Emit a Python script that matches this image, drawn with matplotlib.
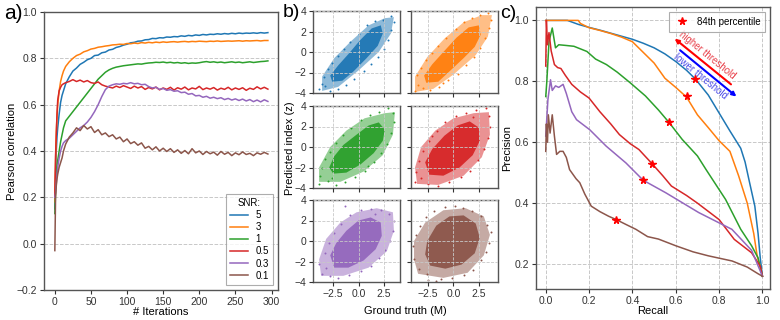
import math
import matplotlib
matplotlib.use("Agg")
import matplotlib.pyplot as plt

plt.rcParams["font.family"] = ["Liberation Sans", "DejaVu Sans"]
plt.rcParams["axes.edgecolor"] = "#555555"
plt.rcParams["axes.linewidth"] = 1.0
plt.rcParams["xtick.color"] = "#333333"
plt.rcParams["ytick.color"] = "#333333"

W, H = 780, 320
COLORS = ["tab:blue", "tab:orange", "tab:green", "tab:red", "tab:purple", "tab:brown"]
snr_labels = ["5", "3", "1", "0.5", "0.3", "0.1"]

# --- panel a: Pearson correlation vs iterations ---
iters = [0, 1, 2, 3, 4, 6, 8, 10, 12, 15,
         20, 25, 30, 35, 40, 45, 50, 55, 60, 65,
         70, 75, 80, 85, 90, 95, 100, 105, 110, 115,
         120, 125, 130, 135, 140, 145, 150, 155, 160, 165,
         170, 175, 180, 185, 190, 195, 200, 205, 210, 215,
         220, 225, 230, 235, 240, 245, 250, 255, 260, 265,
         270, 275, 280, 285, 290, 295]

corr_snr5 = [0.15, 0.30, 0.40, 0.46, 0.50, 0.56, 0.61, 0.64, 0.66, 0.69,
             0.720, 0.745, 0.758, 0.774, 0.783, 0.794, 0.800, 0.812, 0.814, 0.824,
             0.827, 0.836, 0.839, 0.847, 0.851, 0.857, 0.861, 0.867, 0.869, 0.874,
             0.875, 0.880, 0.881, 0.886, 0.885, 0.889, 0.888, 0.892, 0.891, 0.894,
             0.893, 0.897, 0.895, 0.899, 0.897, 0.901, 0.899, 0.903, 0.901, 0.904,
             0.903, 0.906, 0.904, 0.907, 0.905, 0.908, 0.906, 0.909, 0.907, 0.909,
             0.908, 0.910, 0.908, 0.911, 0.909, 0.911]
corr_snr3 = [0.18, 0.35, 0.48, 0.55, 0.60, 0.66, 0.70, 0.725, 0.745, 0.765,
             0.785, 0.800, 0.812, 0.818, 0.828, 0.833, 0.840, 0.843, 0.848, 0.850,
             0.853, 0.855, 0.858, 0.859, 0.861, 0.860, 0.864, 0.863, 0.866, 0.864,
             0.868, 0.866, 0.869, 0.867, 0.870, 0.868, 0.871, 0.869, 0.871, 0.872,
             0.870, 0.872, 0.873, 0.871, 0.873, 0.872, 0.874, 0.873, 0.872, 0.874,
             0.873, 0.875, 0.873, 0.874, 0.875, 0.874, 0.875, 0.876, 0.874, 0.876,
             0.875, 0.876, 0.877, 0.875, 0.877, 0.877]
corr_snr1 = [0.13, 0.22, 0.30, 0.34, 0.36, 0.40, 0.44, 0.47, 0.50, 0.53,
             0.550, 0.570, 0.590, 0.610, 0.630, 0.650, 0.670, 0.690, 0.710, 0.725,
             0.740, 0.750, 0.757, 0.762, 0.765, 0.768, 0.770, 0.772, 0.774, 0.776,
             0.775, 0.778, 0.780, 0.781, 0.783, 0.782, 0.784, 0.781, 0.783, 0.780,
             0.782, 0.779, 0.781, 0.778, 0.780, 0.779, 0.781, 0.784, 0.786, 0.783,
             0.785, 0.782, 0.784, 0.781, 0.783, 0.785, 0.782, 0.784, 0.781, 0.783,
             0.785, 0.782, 0.784, 0.786, 0.787, 0.789]
corr_snr05 = [0.20, 0.38, 0.47, 0.56, 0.62, 0.66, 0.675, 0.686, 0.690, 0.695,
              0.700, 0.708, 0.700, 0.706, 0.698, 0.704, 0.695, 0.692, 0.698, 0.686,
              0.680, 0.676, 0.672, 0.680, 0.674, 0.682, 0.676, 0.670, 0.680, 0.672,
              0.678, 0.666, 0.674, 0.668, 0.676, 0.664, 0.672, 0.666, 0.675, 0.663,
              0.673, 0.667, 0.676, 0.664, 0.672, 0.668, 0.679, 0.665, 0.672, 0.667,
              0.674, 0.663, 0.671, 0.666, 0.675, 0.664, 0.672, 0.666, 0.673, 0.662,
              0.671, 0.666, 0.677, 0.668, 0.675, 0.667]
corr_snr03 = [0.20, 0.22, 0.26, 0.30, 0.33, 0.37, 0.40, 0.42, 0.435, 0.445,
              0.455, 0.470, 0.485, 0.500, 0.510, 0.525, 0.545, 0.570, 0.600, 0.635,
              0.665, 0.680, 0.686, 0.690, 0.688, 0.692, 0.690, 0.695, 0.690, 0.692,
              0.686, 0.688, 0.678, 0.672, 0.675, 0.666, 0.670, 0.662, 0.665, 0.658,
              0.660, 0.652, 0.654, 0.645, 0.648, 0.638, 0.640, 0.632, 0.636, 0.628,
              0.632, 0.626, 0.630, 0.622, 0.627, 0.620, 0.625, 0.618, 0.624, 0.616,
              0.622, 0.613, 0.620, 0.612, 0.621, 0.614]
corr_snr01 = [-0.03, 0.20, 0.25, 0.28, 0.30, 0.33, 0.35, 0.37, 0.40, 0.43,
              0.460, 0.478, 0.500, 0.488, 0.510, 0.495, 0.505, 0.480, 0.492, 0.470,
              0.478, 0.462, 0.470, 0.452, 0.460, 0.440, 0.452, 0.432, 0.440, 0.425,
              0.435, 0.412, 0.420, 0.405, 0.418, 0.400, 0.412, 0.398, 0.410, 0.394,
              0.405, 0.390, 0.402, 0.388, 0.410, 0.392, 0.400, 0.385, 0.398, 0.388,
              0.395, 0.382, 0.398, 0.386, 0.394, 0.380, 0.392, 0.384, 0.396, 0.385,
              0.390, 0.380, 0.392, 0.386, 0.394, 0.387]
corr_series = [corr_snr5, corr_snr3, corr_snr1, corr_snr05, corr_snr03, corr_snr01]

# --- panel b: predicted vs ground truth clouds (dense core, sparse halo, stray points) ---
cloud_core = [
    [(-2.6, -2.9), (-1.6, -2.8), (-0.5, -1.9), (0.8, -0.6), (1.9, 0.6), (2.4, 1.8),
     (2.2, 2.6), (1.3, 2.3), (0.2, 1.2), (-1.0, -0.2), (-2.0, -1.3), (-2.8, -2.3)],
    [(-2.7, -3.0), (-1.5, -2.9), (-0.3, -1.8), (1.0, -0.6), (2.1, 0.5), (2.7, 1.7),
     (2.5, 2.6), (1.5, 2.4), (0.3, 1.4), (-1.0, 0.0), (-2.1, -1.2), (-2.9, -2.3)],
    [(-2.5, -2.6), (-1.2, -2.5), (0.2, -1.7), (1.5, -0.6), (2.4, 0.6), (2.6, 1.7),
     (2.0, 2.4), (1.0, 2.1), (-0.2, 1.2), (-1.5, 0.2), (-2.4, -0.9), (-2.9, -2.0)],
    [(-2.4, -2.7), (-1.0, -2.8), (0.6, -2.0), (1.9, -0.8), (2.6, 0.6), (2.5, 1.9),
     (1.6, 2.5), (0.4, 2.1), (-0.9, 1.1), (-2.1, -0.2), (-2.8, -1.5)],
    [(-2.4, -2.6), (-1.0, -2.6), (0.5, -1.9), (1.7, -0.8), (2.3, 0.5), (2.2, 1.8),
     (1.2, 2.3), (0.0, 2.0), (-1.2, 1.0), (-2.2, -0.2), (-2.8, -1.4)],
    [(-2.3, -2.4), (-0.8, -2.7), (0.8, -2.3), (2.1, -1.2), (2.6, 0.3), (2.2, 1.7),
     (1.0, 2.5), (-0.4, 2.4), (-1.7, 1.5), (-2.6, 0.0), (-2.8, -1.3)],
]
cloud_halo = [
    [(-3.6, -3.8), (-2.0, -3.4), (0.0, -1.8), (2.0, 0.0), (3.2, 1.8), (3.5, 3.4),
     (2.6, 3.3), (1.0, 2.6), (-0.8, 1.0), (-2.4, -0.6), (-3.6, -2.4)],
    [(-3.8, -3.9), (-2.0, -3.6), (0.0, -2.2), (2.2, -0.3), (3.4, 1.5), (3.8, 3.6),
     (2.8, 3.6), (1.0, 2.9), (-0.9, 1.3), (-2.6, -0.5), (-3.8, -2.4)],
    [(-3.9, -3.4), (-1.8, -3.4), (0.5, -2.4), (2.4, -0.8), (3.4, 1.2), (3.6, 3.4),
     (2.6, 3.3), (0.6, 2.8), (-1.2, 1.6), (-2.8, 0.0), (-3.9, -2.0)],
    [(-3.6, -3.6), (-1.5, -3.7), (1.0, -2.8), (2.8, -1.0), (3.6, 1.2), (3.5, 3.4),
     (2.0, 3.3), (0.0, 2.8), (-1.8, 1.6), (-3.2, 0.0), (-3.8, -2.0)],
    [(-3.7, -3.4), (-1.5, -3.4), (1.0, -2.6), (2.8, -1.0), (3.5, 1.0), (3.4, 2.8),
     (1.8, 3.2), (-0.2, 2.8), (-1.8, 1.8), (-3.2, 0.2), (-3.9, -1.8)],
    [(-3.5, -3.2), (-1.0, -3.6), (1.4, -3.1), (3.0, -1.4), (3.6, 0.6), (3.0, 2.4),
     (1.2, 3.2), (-1.0, 3.0), (-2.8, 1.8), (-3.9, 0.0), (-3.9, -1.8)],
]
cloud_strays = [
    [(-3.9, -3.6), (-3.6, -3.1), (-3.4, -2.4), (-3.0, -1.7), (-2.6, -1.1), (-2.0, -0.4),
     (-1.4, 0.3), (-0.8, 1.0), (0.0, 1.8), (0.8, 2.6), (1.6, 3.0), (2.4, 3.1), (3.2, 3.5),
     (3.5, 2.9), (3.2, 2.1), (2.9, 1.2), (2.5, 0.3), (1.9, -0.5), (1.2, -1.2), (0.5, -1.9),
     (-0.4, -2.6), (-1.2, -3.2), (-2.0, -3.6), (-2.8, -3.8), (-3.3, -3.3)],
    [(-3.8, -3.8), (-3.5, -3.2), (-3.6, -2.2), (-3.2, -1.6), (-2.7, -0.8), (-2.1, -0.1),
     (-1.5, 0.6), (-0.7, 1.4), (0.2, 2.2), (1.0, 2.9), (1.8, 3.3), (2.6, 3.6), (3.4, 3.8),
     (3.7, 3.1), (3.5, 2.3), (3.1, 1.4), (2.6, 0.4), (2.0, -0.5), (1.2, -1.3), (0.4, -2.1),
     (-0.5, -2.7), (-1.4, -3.4), (-2.3, -3.7), (-3.0, -3.5), (-1.0, -3.0)],
    [(-3.9, -3.6), (-3.8, -2.8), (-3.6, -2.0), (-3.3, -1.2), (-2.8, -0.5), (-2.2, 0.4),
     (-1.5, 1.2), (-0.7, 1.9), (0.2, 2.6), (1.1, 3.1), (2.0, 3.4), (2.9, 3.8), (3.4, 3.3),
     (3.5, 2.4), (3.2, 1.4), (2.8, 0.3), (2.2, -0.6), (1.5, -1.5), (0.6, -2.3), (-0.3, -2.9),
     (-1.3, -3.4), (-2.2, -3.7), (-3.0, -3.3), (-2.6, -3.0), (0.9, -1.9)],
    [(-3.8, -3.4), (-3.7, -2.4), (-3.4, -1.4), (-3.0, -0.4), (-2.4, 0.6), (-1.6, 1.6),
     (-0.8, 2.4), (0.2, 3.0), (1.2, 3.3), (2.2, 3.6), (3.2, 3.8), (3.5, 3.0), (3.6, 2.0),
     (3.4, 0.9), (3.0, -0.2), (2.4, -1.3), (1.6, -2.3), (0.7, -2.9), (-0.4, -3.4),
     (-1.5, -3.8), (-2.5, -3.6), (-3.2, -3.0), (1.9, 2.9), (-2.1, 1.1)],
    [(-3.9, -2.2), (-3.6, -3.2), (-3.3, -1.2), (-2.9, -0.2), (-2.4, 0.8), (-1.7, 1.7),
     (-1.3, 3.4), (-0.8, 2.5), (0.2, 3.0), (1.2, 3.1), (2.2, 3.0), (3.0, 2.6), (3.5, 2.0),
     (3.4, 1.0), (3.1, 0.0), (2.6, -0.9), (2.0, -1.7), (1.2, -2.4), (0.2, -2.9),
     (-0.9, -3.3), (-2.0, -3.6), (-2.8, -3.4), (-3.2, -2.6), (1.6, 2.6)],
    [(-3.9, -1.8), (-4.0, -0.5), (-3.7, 0.6), (-3.3, 1.5), (-2.7, 2.3), (-1.9, 2.9),
     (-0.8, 3.3), (0.1, 3.4), (0.9, 3.2), (1.8, 2.9), (2.7, 2.4), (3.3, 1.6), (3.7, 0.9),
     (3.5, -0.2), (3.2, -1.1), (2.7, -1.9), (1.9, -2.8), (1.0, -3.3), (-0.1, -3.6),
     (-1.2, -3.7), (-1.7, -3.9), (-2.6, -3.2), (-3.4, -2.7), (-2.5, -3.8)],
]

# --- panel c: precision-recall curves ---
pr_recall = [
    [0.0, 0.10, 0.15, 0.2, 0.25, 0.3, 0.35, 0.4, 0.45, 0.5, 0.55, 0.6, 0.65, 0.69,
     0.75, 0.8, 0.85, 0.9, 0.92, 0.94, 0.965, 0.98, 0.99, 1.0],
    [0.0, 0.15, 0.16, 0.2, 0.25, 0.3, 0.35, 0.4, 0.45, 0.5, 0.55, 0.6, 0.65, 0.7,
     0.75, 0.8, 0.85, 0.89, 0.93, 0.96, 0.975, 1.0],
    [0.0, 0.005, 0.015, 0.03, 0.045, 0.06, 0.09, 0.13, 0.19, 0.23, 0.28, 0.33, 0.39,
     0.46, 0.52, 0.57, 0.63, 0.7, 0.74, 0.83, 0.9, 0.95, 0.98, 1.0],
    [0.0, 0.003, 0.008, 0.015, 0.025, 0.04, 0.055, 0.07, 0.09, 0.12, 0.16, 0.2, 0.25,
     0.3, 0.34, 0.39, 0.43, 0.49, 0.54, 0.58, 0.65, 0.7, 0.8, 0.87, 0.95, 0.99, 1.0],
    [0.0, 0.01, 0.022, 0.03, 0.045, 0.06, 0.08, 0.095, 0.12, 0.142, 0.203, 0.279,
     0.37, 0.45, 0.554, 0.706, 0.859, 0.95, 1.0],
    [0.0, 0.003, 0.008, 0.012, 0.02, 0.03, 0.04, 0.05, 0.065, 0.08, 0.095, 0.11, 0.14,
     0.157, 0.18, 0.21, 0.25, 0.29, 0.325, 0.37, 0.416, 0.47, 0.52, 0.6, 0.68, 0.75,
     0.86, 0.93, 0.98, 1.0],
]
pr_precision = [
    [1.0, 1.0, 0.987, 0.977, 0.968, 0.958, 0.948, 0.938, 0.925, 0.91, 0.89, 0.865,
     0.836, 0.808, 0.755, 0.696, 0.637, 0.58, 0.535, 0.47, 0.39, 0.30, 0.22, 0.16],
    [1.0, 1.0, 0.99, 0.976, 0.967, 0.957, 0.945, 0.93, 0.895, 0.86, 0.81, 0.78,
     0.748, 0.69, 0.648, 0.605, 0.57, 0.49, 0.40, 0.30, 0.23, 0.16],
    [0.75, 0.80, 0.93, 0.975, 0.91, 0.92, 0.918, 0.915, 0.898, 0.873, 0.855, 0.83,
     0.795, 0.752, 0.706, 0.664, 0.609, 0.555, 0.51, 0.412, 0.314, 0.26, 0.22, 0.16],
    [0.85, 1.0, 0.92, 0.96, 0.90, 0.855, 0.845, 0.842, 0.82, 0.79, 0.765, 0.745,
     0.70, 0.66, 0.625, 0.595, 0.576, 0.53, 0.49, 0.456, 0.425, 0.40, 0.346, 0.281,
     0.237, 0.193, 0.16],
    [0.62, 0.74, 0.805, 0.77, 0.785, 0.78, 0.79, 0.76, 0.70, 0.674, 0.641, 0.587,
     0.532, 0.475, 0.434, 0.369, 0.314, 0.245, 0.16],
    [0.57, 0.66, 0.60, 0.69, 0.63, 0.69, 0.62, 0.56, 0.57, 0.57, 0.55, 0.51, 0.48,
     0.467, 0.43, 0.39, 0.372, 0.357, 0.346, 0.33, 0.314, 0.29, 0.282, 0.26, 0.24,
     0.227, 0.21, 0.19, 0.168, 0.16],
]
p84_recall = [0.69, 0.65, 0.57, 0.49, 0.45, 0.325]
p84_precision = [0.808, 0.753, 0.665, 0.53, 0.475, 0.346]


def rect(x0, y0, x1, y1):
    return [x0 / W, 1 - y1 / H, (x1 - x0) / W, (y1 - y0) / H]


fig = plt.figure(figsize=(W / 100, H / 100), dpi=100)

# a) correlation over training
ax_a = fig.add_axes(rect(44, 12, 278, 290))
for vals, lab, col in zip(corr_series, snr_labels, COLORS):
    ax_a.plot(iters, vals, color=col, lw=1.1, label=lab)
ax_a.set_ylim(-0.2, 1.0)
ax_a.set_xlim(-15, 309)
ax_a.set_xticks([0, 50, 100, 150, 200, 250, 300])
ax_a.set_yticks([-0.2, 0.0, 0.2, 0.4, 0.6, 0.8, 1.0])
ax_a.yaxis.grid(True, ls="--", color="#c8c8c8", lw=0.7)
ax_a.tick_params(labelsize=7.5, length=3, pad=2)
ax_a.set_xlabel("# Iterations", fontsize=8)
ax_a.set_ylabel("Pearson correlation", fontsize=8)
ax_a.xaxis.set_label_coords(0.5, -0.062)
ax_a.yaxis.set_label_coords(-0.115, 0.5)
leg = ax_a.legend(title="SNR:", loc="lower right", fontsize=7, title_fontsize=7,
                  labelspacing=0.22, handlelength=1.8, borderpad=0.45,
                  fancybox=False, edgecolor="#999999")
leg.get_frame().set_linewidth(0.8)

# b) scatter clouds, 3 rows x 2 columns
cols_x = [(313, 400), (411, 498)]
rows_y = [(11, 93), (106, 188), (200, 282)]
xlims = [(-4.5, 4.1), (-4.2, 4.4)]
for i in range(6):
    r, c = divmod(i, 2)
    ax = fig.add_axes(rect(cols_x[c][0], rows_y[r][0], cols_x[c][1], rows_y[r][1]))
    hx, hy = zip(*cloud_halo[i])
    ax.fill(hx, hy, color=COLORS[i], alpha=0.5, lw=0)
    cx, cy = zip(*cloud_core[i])
    ax.fill(cx, cy, color=COLORS[i], alpha=0.95, lw=0)
    sx, sy = zip(*cloud_strays[i])
    ax.scatter(sx, sy, s=2, color=COLORS[i], lw=0)
    ax.set_xlim(*xlims[c])
    ax.set_ylim(-4, 4)
    ax.set_xticks([-2.5, 0.0, 2.5])
    ax.set_yticks([-4, -2, 0, 2, 4])
    ax.grid(True, ls="--", color="#c8c8c8", lw=0.6)
    ax.set_axisbelow(False)
    ax.tick_params(labelsize=7.5, length=3, pad=2,
                   labelbottom=(r == 2), labelleft=(c == 0))
fig.text(405 / W, 1 - 311 / H, "Ground truth (M)", ha="center", va="center", fontsize=8)
fig.text(290 / W, 1 - 148 / H, "Predicted index (z)", ha="center", va="center",
         rotation=90, fontsize=8)

# c) precision-recall
ax_c = fig.add_axes(rect(536, 7, 770, 289))
for rec, prec, col in zip(pr_recall, pr_precision, COLORS):
    ax_c.plot(rec, prec, color=col, lw=1.1)
ax_c.plot(p84_recall, p84_precision, ls="none", marker="*", color="red",
          ms=5.5, label="84th percentile", zorder=5)
ax_c.set_xlim(-0.045, 1.035)
ax_c.set_ylim(0.118, 1.044)
ax_c.set_xticks([0.0, 0.2, 0.4, 0.6, 0.8, 1.0])
ax_c.set_yticks([0.2, 0.4, 0.6, 0.8, 1.0])
ax_c.grid(True, ls="--", color="#c8c8c8", lw=0.7)
ax_c.tick_params(labelsize=7.5, length=3, pad=2)
ax_c.set_xlabel("Recall", fontsize=8)
ax_c.set_ylabel("Precision", fontsize=8)
ax_c.xaxis.set_label_coords(0.5, -0.062)
ax_c.yaxis.set_label_coords(-0.1, 0.5)
leg_c = ax_c.legend(loc="upper right", fontsize=7, handlelength=1.5,
                    fancybox=False, edgecolor="#999999", borderpad=0.5)
leg_c.get_frame().set_linewidth(0.8)

hi_start, hi_end = (0.855, 0.79), (0.595, 0.94)
lo_start, lo_end = (0.62, 0.902), (0.88, 0.75)
ax_c.annotate("", xy=hi_end, xytext=hi_start,
              arrowprops=dict(arrowstyle="-|>", color="red", lw=1.5, mutation_scale=6,
                              shrinkA=0, shrinkB=0))
ax_c.annotate("", xy=lo_end, xytext=lo_start,
              arrowprops=dict(arrowstyle="-|>", color="blue", lw=1.5, mutation_scale=6,
                              shrinkA=0, shrinkB=0))
p1 = ax_c.transData.transform(hi_start)
p2 = ax_c.transData.transform(hi_end)
ang = math.degrees(math.atan2(p1[1] - p2[1], p1[0] - p2[0]))
ax_c.text(0.745, 0.887, "higher threshold", color="#e8404a", fontsize=7,
          rotation=ang, ha="center", va="center", rotation_mode="anchor")
ax_c.text(0.716, 0.815, "lower threshold", color="#4a4ae8", fontsize=7,
          rotation=ang, ha="center", va="center", rotation_mode="anchor")

# panel letters
fig.text(4 / W, 1 - 4 / H, "a)", fontsize=15, ha="left", va="top")
fig.text(283 / W, 1 - 4 / H, "b)", fontsize=14, ha="left", va="top")
fig.text(500 / W, 1 - 5 / H, "c)", fontsize=14, ha="left", va="top")

fig.savefig("out.png", dpi=100)
